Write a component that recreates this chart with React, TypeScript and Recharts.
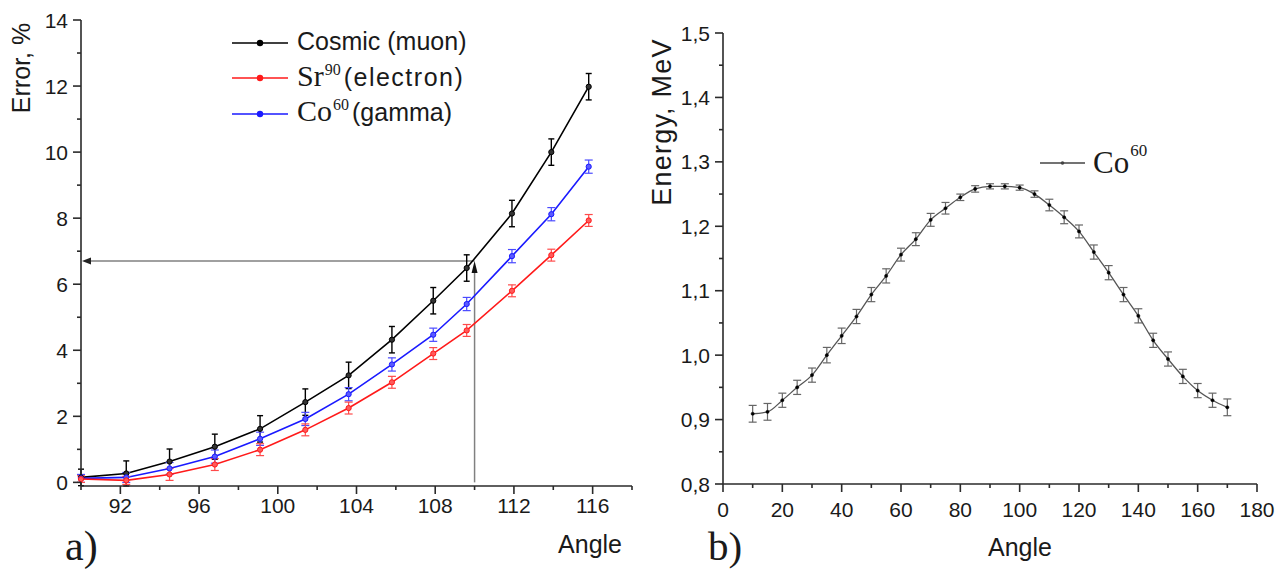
import React from 'react';
import { LineChart, Line, XAxis, YAxis, ErrorBar, ReferenceLine, Legend } from 'recharts';

const SANS = '"Liberation Sans", Arial, sans-serif';
const SERIF = '"Liberation Serif", "Times New Roman", serif';

// ---------- Panel a) ----------
const anglesA = [90, 92.3, 94.5, 96.8, 99.1, 101.4, 103.6, 105.8, 107.9, 109.6, 111.9, 113.9, 115.8];
const cosmic = [0.15, 0.27, 0.63, 1.08, 1.62, 2.43, 3.24, 4.32, 5.5, 6.49, 8.14, 10.0, 11.98];
const cosmicErr = [0.25, 0.38, 0.38, 0.38, 0.4, 0.4, 0.4, 0.4, 0.4, 0.4, 0.4, 0.4, 0.4];
const strontium = [0.1, 0.06, 0.24, 0.54, 0.99, 1.59, 2.25, 3.03, 3.9, 4.6, 5.8, 6.88, 7.93];
const strontiumErr = [0.1, 0.12, 0.18, 0.18, 0.18, 0.18, 0.18, 0.18, 0.18, 0.18, 0.18, 0.18, 0.18];
const cobaltA = [0.12, 0.15, 0.42, 0.78, 1.32, 1.92, 2.67, 3.57, 4.47, 5.4, 6.85, 8.12, 9.56];
const cobaltAErr = [0.12, 0.15, 0.18, 0.2, 0.2, 0.2, 0.2, 0.2, 0.2, 0.2, 0.2, 0.2, 0.2];
const xTicksA = [90, 92, 94, 96, 98, 100, 102, 104, 106, 108, 110, 112, 114, 116, 118];
const xLabelsA = [92, 96, 100, 104, 108, 112, 116];
const yTicksA = [0, 1, 2, 3, 4, 5, 6, 7, 8, 9, 10, 11, 12, 13, 14];
const yLabelsA = [0, 2, 4, 6, 8, 10, 12, 14];
const arrowAngle = 110;
const arrowError = 6.7;

// ---------- Panel b) ----------
const anglesB = [10, 15, 20, 25, 30, 35, 40, 45, 50, 55, 60, 65, 70, 75, 80, 85, 90, 95, 100, 105, 110, 115, 120, 125, 130, 135, 140, 145, 150, 155, 160, 165, 170];
const energy = [0.909, 0.912, 0.930, 0.950, 0.969, 1.000, 1.030, 1.060, 1.094, 1.123, 1.156, 1.180, 1.210, 1.228, 1.245, 1.258, 1.262, 1.262, 1.260, 1.250, 1.233, 1.214, 1.192, 1.160, 1.128, 1.094, 1.061, 1.023, 0.994, 0.967, 0.945, 0.930, 0.919];
const energyErr = [0.013, 0.013, 0.011, 0.011, 0.011, 0.012, 0.012, 0.011, 0.011, 0.011, 0.010, 0.010, 0.010, 0.009, 0.005, 0.005, 0.004, 0.004, 0.004, 0.005, 0.009, 0.010, 0.010, 0.011, 0.011, 0.011, 0.011, 0.011, 0.011, 0.011, 0.011, 0.011, 0.013];
const xTicksB = [0, 10, 20, 30, 40, 50, 60, 70, 80, 90, 100, 110, 120, 130, 140, 150, 160, 170, 180];
const xLabelsB = [0, 20, 40, 60, 80, 100, 120, 140, 160, 180];
const yTicksB = [0.8, 0.85, 0.9, 0.95, 1.0, 1.05, 1.1, 1.15, 1.2, 1.25, 1.3, 1.35, 1.4, 1.45, 1.5];
const yLabelsB = [0.8, 0.9, 1.0, 1.1, 1.2, 1.3, 1.4, 1.5];

const dataA = anglesA.map((a, i) => ({
  angle: a,
  cosmic: cosmic[i], cosmicErr: cosmicErr[i],
  sr: strontium[i], srErr: strontiumErr[i],
  co: cobaltA[i], coErr: cobaltAErr[i],
}));
const dataB = anglesB.map((a, i) => ({ angle: a, energy: energy[i], err: energyErr[i] }));

const AXIS = '#2a2a2a';
const TXT = '#1a1a1a';

const isIn = (arr: number[], v: number) => arr.some((l) => Math.abs(l - v) < 1e-6);

const makeXTick = (labels: number[], fmt: (v: number) => string, fs: number, dy: number) => (props: any) => {
  const { x, y, payload } = props;
  const v = payload.value;
  const major = isIn(labels, v);
  const len = major ? 8 : 4;
  return (
    <g>
      <line x1={x} y1={y} x2={x} y2={y + len} stroke={AXIS} strokeWidth={1.6} />
      {major && (
        <text x={x} y={y + dy} textAnchor="middle" fontFamily={SANS} fontSize={fs} fill={TXT}>
          {fmt(v)}
        </text>
      )}
    </g>
  );
};

const makeYTick = (labels: number[], fmt: (v: number) => string, fs: number) => (props: any) => {
  const { x, y, payload } = props;
  const v = payload.value;
  const major = isIn(labels, v);
  const len = major ? 8 : 4;
  return (
    <g>
      <line x1={x} y1={y} x2={x - len} y2={y} stroke={AXIS} strokeWidth={1.6} />
      {major && (
        <text x={x - 13} y={y} dy="0.36em" textAnchor="end" fontFamily={SANS} fontSize={fs} fill={TXT}>
          {fmt(v)}
        </text>
      )}
    </g>
  );
};

const HArrow = (p: any) => {
  const { x1, y1, x2, y2 } = p;
  const xl = Math.min(x1, x2);
  const xr = Math.max(x1, x2);
  const y = (y1 + y2) / 2;
  return (
    <g>
      <line x1={xl + 6} y1={y} x2={xr} y2={y} stroke="#808080" strokeWidth={1.5} />
      <polygon points={`${xl + 1},${y} ${xl + 10},${y - 3.5} ${xl + 10},${y + 3.5}`} fill="#222" />
    </g>
  );
};

const VArrow = (p: any) => {
  const { x1, y1, x2, y2 } = p;
  const yt = Math.min(y1, y2);
  const yb = Math.max(y1, y2);
  const x = (x1 + x2) / 2;
  return (
    <g>
      <line x1={x} y1={yt + 6} x2={x} y2={yb} stroke="#808080" strokeWidth={1.5} />
      <polygon points={`${x},${yt} ${x - 3},${yt + 12} ${x + 3},${yt + 12}`} fill="#111" />
    </g>
  );
};

const legendRowsA = [
  { key: 'cosmic', color: '#000000' },
  { key: 'sr', color: '#ff1a1a' },
  { key: 'co', color: '#1a1aff' },
];

const Sup = ({ children }: { children: React.ReactNode }) => (
  <span style={{ fontFamily: SERIF, fontSize: 16, position: 'relative', top: -11, marginLeft: 1, marginRight: 3 }}>{children}</span>
);

const LegendSample = ({ color, w = 58, r = 3.2, sw = 1.6 }: { color: string; w?: number; r?: number; sw?: number }) => (
  <svg width={w} height={10} style={{ display: 'block' }}>
    <line x1={0} y1={5} x2={w - 2} y2={5} stroke={color} strokeWidth={sw} />
    <circle cx={(w - 2) / 2} cy={5} r={r} fill={color} />
  </svg>
);

const LegendA = () => (
  <div style={{ color: TXT }}>
    {legendRowsA.map((row) => (
      <div key={row.key} style={{ display: 'flex', alignItems: 'center', height: 35.5 }}>
        <LegendSample color={row.color} />
        <div style={{ marginLeft: 7, whiteSpace: 'nowrap', lineHeight: '30px' }}>
          {row.key === 'cosmic' && <span style={{ fontFamily: SANS, fontSize: 25 }}>Cosmic (muon)</span>}
          {row.key === 'sr' && (
            <>
              <span style={{ fontFamily: SERIF, fontSize: 30 }}>Sr</span>
              <Sup>90</Sup>
              <span style={{ fontFamily: SANS, fontSize: 25, letterSpacing: 1.5 }}>(electron)</span>
            </>
          )}
          {row.key === 'co' && (
            <>
              <span style={{ fontFamily: SERIF, fontSize: 30 }}>Co</span>
              <Sup>60</Sup>
              <span style={{ fontFamily: SANS, fontSize: 25 }}>(gamma)</span>
            </>
          )}
        </div>
      </div>
    ))}
  </div>
);

const LegendB = () => (
  <div style={{ display: 'flex', alignItems: 'center', color: TXT, whiteSpace: 'nowrap' }}>
    <LegendSample color="#444" w={47} r={1.8} sw={1.4} />
    <span style={{ marginLeft: 6, fontFamily: SERIF, fontSize: 31 }}>Co</span>
    <span style={{ fontFamily: SERIF, fontSize: 17, position: 'relative', top: -12, marginLeft: 1 }}>60</span>
  </div>
);

const fmtInt = (v: number) => String(v);
const fmtComma = (v: number) => v.toFixed(1).replace('.', ',');

const LabelsA = () => (
  <g>
    <text x={622} y={553} textAnchor="end" fontFamily={SANS} fontSize={25} fill={TXT}>Angle</text>
    <text x={65} y={560} fontFamily={SERIF} fontSize={42} fill={TXT}>a)</text>
  </g>
);
const YLabelA = () => (
  <text x={30} y={68} transform="rotate(-90 30 68)" textAnchor="middle" fontFamily={SANS} fontSize={25} fill={TXT}>Error, %</text>
);
const LabelsB = () => (
  <g>
    <text x={348} y={556} textAnchor="start" fontFamily={SANS} fontSize={25} fill={TXT}>Angle</text>
    <text x={68} y={560} fontFamily={SERIF} fontSize={41} fill={TXT}>b)</text>
  </g>
);
const YLabelB = () => (
  <text x={31} y={122} transform="rotate(-90 31 122)" textAnchor="middle" fontFamily={SANS} fontSize={27} letterSpacing={1.2} fill={TXT}>Energy, MeV</text>
);

export default function App() {
  return (
    <div style={{ position: 'absolute', left: 0, top: 0, width: 1288, height: 570, background: '#fff', overflow: 'hidden' }}>
      <div style={{ position: 'absolute', left: 0, top: 0 }}>
        <LineChart width={640} height={570} data={dataA} margin={{ top: 20, right: 8, left: 0, bottom: 0 }}>
          <XAxis
            dataKey="angle"
            type="number"
            domain={[90, 118]}
            ticks={xTicksA}
            interval={0}
            height={84}
            tickSize={0}
            tickMargin={0}
            stroke={AXIS}
            strokeWidth={1.6}
            tick={makeXTick(xLabelsA, fmtInt, 21, 27)}
            label={LabelsA}
          />
          <YAxis
            type="number"
            domain={[0, 14]}
            ticks={yTicksA}
            interval={0}
            width={81}
            tickSize={0}
            tickMargin={0}
            stroke={AXIS}
            strokeWidth={1.6}
            tick={makeYTick(yLabelsA, fmtInt, 21)}
            label={YLabelA}
          />
          <ReferenceLine segment={[{ x: arrowAngle, y: 0 }, { x: arrowAngle, y: arrowError }]} shape={VArrow} ifOverflow="visible" />
          <ReferenceLine segment={[{ x: arrowAngle, y: arrowError }, { x: 90, y: arrowError }]} shape={HArrow} ifOverflow="visible" />
          <Line type="linear" dataKey="cosmic" stroke="#000" strokeWidth={1.6} dot={{ r: 2.6, fill: '#333', stroke: '#000', strokeWidth: 1 }} isAnimationActive={false}>
            <ErrorBar dataKey="cosmicErr" direction="y" width={3} stroke="#000" strokeWidth={1.4} />
          </Line>
          <Line type="linear" dataKey="co" stroke="#1a1aff" strokeWidth={1.6} dot={{ r: 2.6, fill: '#5a5aff', stroke: '#1a1aff', strokeWidth: 1 }} isAnimationActive={false}>
            <ErrorBar dataKey="coErr" direction="y" width={4} stroke="#4a4aff" strokeWidth={1.2} />
          </Line>
          <Line type="linear" dataKey="sr" stroke="#ff1a1a" strokeWidth={1.6} dot={{ r: 2.6, fill: '#ff5a5a', stroke: '#ff1a1a', strokeWidth: 1 }} isAnimationActive={false}>
            <ErrorBar dataKey="srErr" direction="y" width={4} stroke="#ff4a4a" strokeWidth={1.2} />
          </Line>
          <Legend
            layout="horizontal"
            verticalAlign="middle"
            align="center"
            wrapperStyle={{ left: 232, top: 25, width: 260 }}
            content={() => <LegendA />}
          />
        </LineChart>
      </div>
      <div style={{ position: 'absolute', left: 640, top: 0 }}>
        <LineChart width={648} height={570} data={dataB} margin={{ top: 33, right: 31, left: 0, bottom: 0 }}>
          <XAxis
            dataKey="angle"
            type="number"
            domain={[0, 180]}
            ticks={xTicksB}
            interval={0}
            height={86}
            tickSize={0}
            tickMargin={0}
            stroke={AXIS}
            strokeWidth={1.6}
            tick={makeXTick(xLabelsB, fmtInt, 21, 33)}
            label={LabelsB}
          />
          <YAxis
            type="number"
            domain={[0.8, 1.5]}
            ticks={yTicksB}
            interval={0}
            width={83}
            tickSize={0}
            tickMargin={0}
            stroke={AXIS}
            strokeWidth={1.6}
            tick={makeYTick(yLabelsB, fmtComma, 21)}
            label={YLabelB}
          />
          <Line type="monotone" dataKey="energy" stroke="#555" strokeWidth={1.3} dot={{ r: 1.6, fill: '#000', stroke: '#000', strokeWidth: 0.5 }} isAnimationActive={false}>
            <ErrorBar dataKey="err" direction="y" width={4} stroke="#666" strokeWidth={1.2} />
          </Line>
          <Legend
            layout="horizontal"
            verticalAlign="middle"
            align="center"
            wrapperStyle={{ left: 400, top: 145, width: 140 }}
            content={() => <LegendB />}
          />
        </LineChart>
      </div>
    </div>
  );
}
